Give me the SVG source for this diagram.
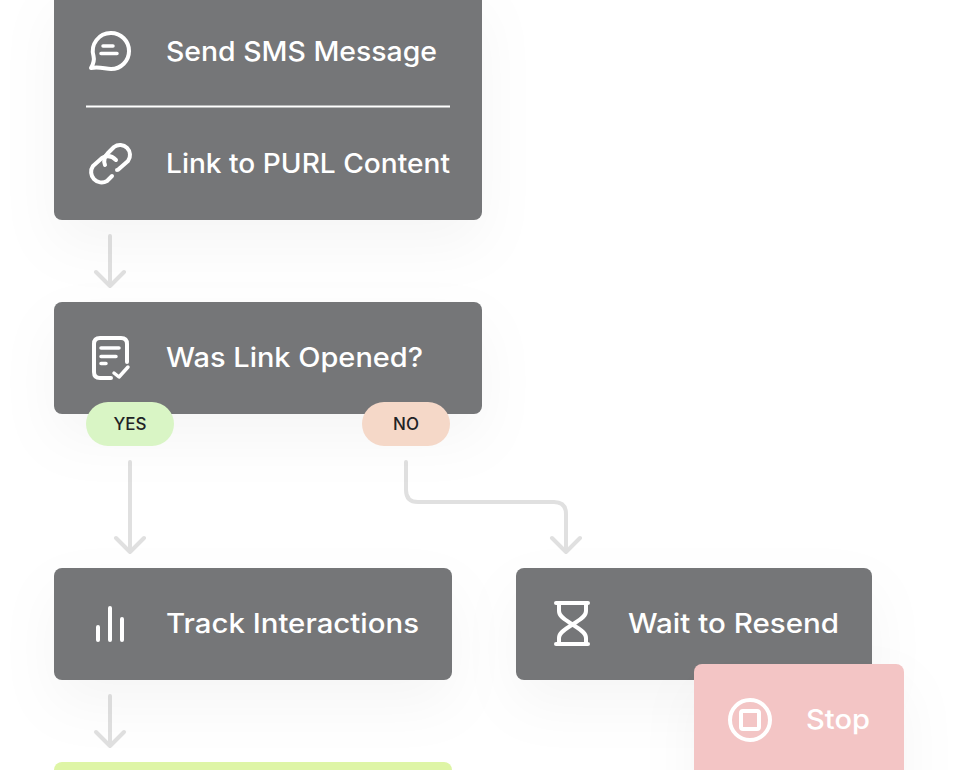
<svg xmlns="http://www.w3.org/2000/svg" width="980" height="770" viewBox="0 0 980 770">
<style>
.t{font-family:Inter,"Liberation Sans",sans-serif;font-size:27px;font-weight:450;fill:#fff}
.b{font-family:Inter,"Liberation Sans",sans-serif;font-size:17px;font-weight:450;fill:#1f2326;text-anchor:middle}
.c{fill:none;stroke:#e0e0e0;stroke-width:4;stroke-linecap:round;stroke-linejoin:round}
.i{fill:none;stroke:#fff;stroke-width:4;stroke-linecap:round;stroke-linejoin:round}
.n{fill:#757678;filter:url(#s)}
</style>
<defs><filter id="s" x="-30%" y="-40%" width="160%" height="220%"><feDropShadow dx="0" dy="24" stdDeviation="28" flood-color="#000" flood-opacity="0.04"/></filter></defs>
<rect width="980" height="770" fill="#fff"/>
<g id="connectors">
<path class="c" d="M110 236V286M96 272L110 286L124 272"/>
<path class="c" d="M130 462V552M116 538L130 552L144 538"/>
<path class="c" d="M406 462V490Q406 502 418 502H554Q566 502 566 514V552M552 538L566 552L580 538"/>
<path class="c" d="M110 696V746M96 732L110 746L124 732"/>
</g>
<g id="node-send-sms">
<rect class="n" x="54" y="-12" width="428" height="232" rx="8"/>
<path class="i" d="M111 33A18 18 0 1 1 111 69C105 69 100 66.500 91 68C94 63 94.500 60 93.500 56A18 18 0 0 1 111 33Z"/>
<path class="i" d="M103 46H113M101 53.500H117" style="stroke-width:3.500"/>
<text class="t" x="166" y="61" textLength="271" lengthAdjust="spacingAndGlyphs">Send SMS Message</text>
<path d="M86 106.500H450" stroke="#fff" stroke-width="2"/>
<path class="i" d="M105 165C103 160 105 156 108 153L114 147A10 10 0 0 1 128 161L120 168C119 169 118 170 117 170"/>
<path class="i" d="M116 160C112 156 107 155 102 158L93 166A10.500 10.500 0 0 0 107 181L112 176"/>
<text class="t" x="166" y="173" textLength="284" lengthAdjust="spacingAndGlyphs">Link to PURL Content</text>
</g>
<g id="node-was-link-opened">
<rect class="n" x="54" y="302" width="428" height="112" rx="8"/>
<path class="i" d="M111 378H100Q94 378 94 372V344Q94 338 100 338H121Q127 338 127 344V362"/>
<path class="i" d="M101 348H119M101 356.500H116M101 363.500H106" style="stroke-width:3.500"/>
<path class="i" d="M114 373L119 377L128 367" style="stroke-width:3.500"/>
<text class="t" x="166" y="367" textLength="257" lengthAdjust="spacingAndGlyphs">Was Link Opened?</text>
</g>
<g id="badge-yes">
<rect x="86" y="402" width="88" height="44" rx="22" fill="#d9f5c5"/>
<text class="b" x="130" y="430">YES</text>
</g>
<g id="badge-no">
<rect x="362" y="402" width="88" height="44" rx="22" fill="#f5d8c8"/>
<text class="b" x="406" y="430">NO</text>
</g>
<g id="node-track">
<rect class="n" x="54" y="568" width="398" height="112" rx="8"/>
<path class="i" d="M98 627V640M110 608V640M122 619V640"/>
<text class="t" x="166" y="633" textLength="253" lengthAdjust="spacingAndGlyphs">Track Interactions</text>
</g>
<g id="node-wait">
<rect class="n" x="516" y="568" width="356" height="112" rx="8"/>
<path class="i" d="M556 603H588M556 644H588M559 603V611C559 617 566 620 572.500 624.500C579 629 586 632 586 638V644M586 603V611C586 617 579 620 572.500 624.500C566 629 559 632 559 638V644"/>
<text class="t" x="628" y="633" textLength="211" lengthAdjust="spacingAndGlyphs">Wait to Resend</text>
</g>
<g id="node-stop">
<rect x="694" y="664" width="210" height="130" rx="8" fill="#f3c5c5" filter="url(#s)"/>
<circle class="i" cx="750" cy="720" r="20"/>
<rect class="i" x="741" y="711" width="18" height="18" rx="2"/>
<text class="t" x="806" y="729" textLength="64" lengthAdjust="spacingAndGlyphs">Stop</text>
</g>
<g id="node-next">
<rect x="54" y="762" width="398" height="40" rx="8" fill="#def5a6"/>
</g>
</svg>
